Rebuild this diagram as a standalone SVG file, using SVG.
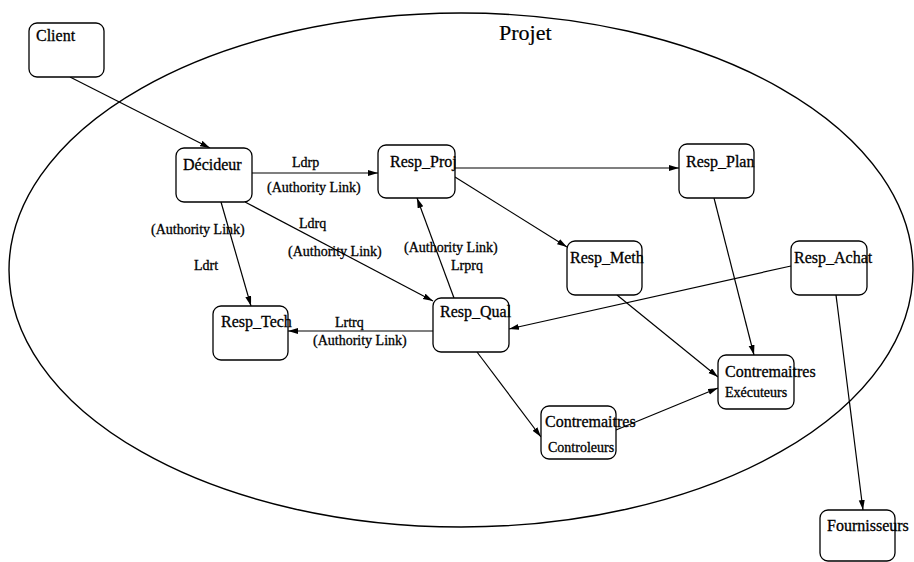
<svg xmlns="http://www.w3.org/2000/svg" width="914" height="562" viewBox="0 0 914 562">
<style>
.node rect{fill:#fff;stroke:#000;stroke-width:1.3}
text{font-family:"Liberation Serif","Times New Roman",serif;fill:#000;stroke:#000;stroke-width:0.3}
.n{font-size:16px}
.s{font-size:14px}
.lbl{font-size:14px}
.title{font-size:22px;stroke-width:0.2}
.conn line{stroke:#000;stroke-width:1.2;marker-end:url(#arr)}
</style>
<defs>
<marker id="arr" markerUnits="userSpaceOnUse" markerWidth="11" markerHeight="7" refX="10" refY="3" orient="auto">
<path d="M0,0 L10,3 L0,6 z" fill="#000"/>
</marker>
</defs>
<rect width="914" height="562" fill="#fff"/>
<g id="projet">
<ellipse cx="461" cy="270" rx="452" ry="257" fill="none" stroke="#000" stroke-width="1.4"/>
<text class="title" x="499" y="40">Projet</text>
</g>
<g class="conn" id="connectors">
<line x1="70" y1="77" x2="210" y2="148"/>
<line x1="252" y1="173" x2="378" y2="173"/>
<line x1="221" y1="202" x2="251" y2="306"/>
<line x1="245" y1="202" x2="433" y2="301"/>
<line x1="433" y1="331" x2="288" y2="331"/>
<line x1="454" y1="298" x2="417" y2="198"/>
<line x1="455" y1="168" x2="679" y2="168"/>
<line x1="455" y1="177" x2="567" y2="247"/>
<line x1="791" y1="266" x2="509" y2="329"/>
<line x1="714" y1="198" x2="754" y2="355"/>
<line x1="617" y1="295" x2="718" y2="377"/>
<line x1="477" y1="352" x2="541" y2="437"/>
<line x1="616" y1="430" x2="718" y2="388"/>
<line x1="836" y1="295" x2="863" y2="510"/>
</g>
<g id="labels">
<text class="lbl" x="292" y="167">Ldrp</text>
<text class="lbl" x="267" y="192">(Authority Link)</text>
<text class="lbl" x="299" y="228">Ldrq</text>
<text class="lbl" x="288" y="256">(Authority Link)</text>
<text class="lbl" x="151" y="234">(Authority Link)</text>
<text class="lbl" x="194" y="270">Ldrt</text>
<text class="lbl" x="404" y="252">(Authority Link)</text>
<text class="lbl" x="451" y="270">Lrprq</text>
<text class="lbl" x="335" y="327">Lrtrq</text>
<text class="lbl" x="313" y="345">(Authority Link)</text>
</g>
<g class="node" id="client"><rect x="29" y="23" width="75" height="54" rx="8"/><text class="n" x="36" y="41">Client</text></g>
<g class="node" id="decideur"><rect x="176" y="148" width="76" height="54" rx="8"/><text class="n" x="183" y="170">Décideur</text></g>
<g class="node" id="resp_proj"><rect x="378" y="145" width="77" height="53" rx="8"/><text class="n" x="390" y="167">Resp_Proj</text></g>
<g class="node" id="resp_tech"><rect x="213" y="306" width="75" height="54" rx="8"/><text class="n" x="221" y="327">Resp_Tech</text></g>
<g class="node" id="resp_qual"><rect x="433" y="298" width="76" height="54" rx="8"/><text class="n" x="440" y="317">Resp_Qual</text></g>
<g class="node" id="resp_plan"><rect x="679" y="144" width="75" height="54" rx="8"/><text class="n" x="686" y="167">Resp_Plan</text></g>
<g class="node" id="resp_meth"><rect x="567" y="241" width="75" height="54" rx="8"/><text class="n" x="570" y="263">Resp_Meth</text></g>
<g class="node" id="resp_achat"><rect x="791" y="241" width="76" height="54" rx="8"/><text class="n" x="794" y="263">Resp_Achat</text></g>
<g class="node" id="executeurs"><rect x="718" y="355" width="76" height="54" rx="8"/><text class="n" x="725" y="377">Contremaitres</text><text class="s" x="725" y="397">Exécuteurs</text></g>
<g class="node" id="controleurs"><rect x="541" y="406" width="75" height="53" rx="8"/><text class="n" x="545" y="427">Contremaitres</text><text class="s" x="548" y="452">Controleurs</text></g>
<g class="node" id="fournisseurs"><rect x="820" y="510" width="75" height="51" rx="8"/><text class="n" x="827" y="531">Fournisseurs</text></g>
</svg>
